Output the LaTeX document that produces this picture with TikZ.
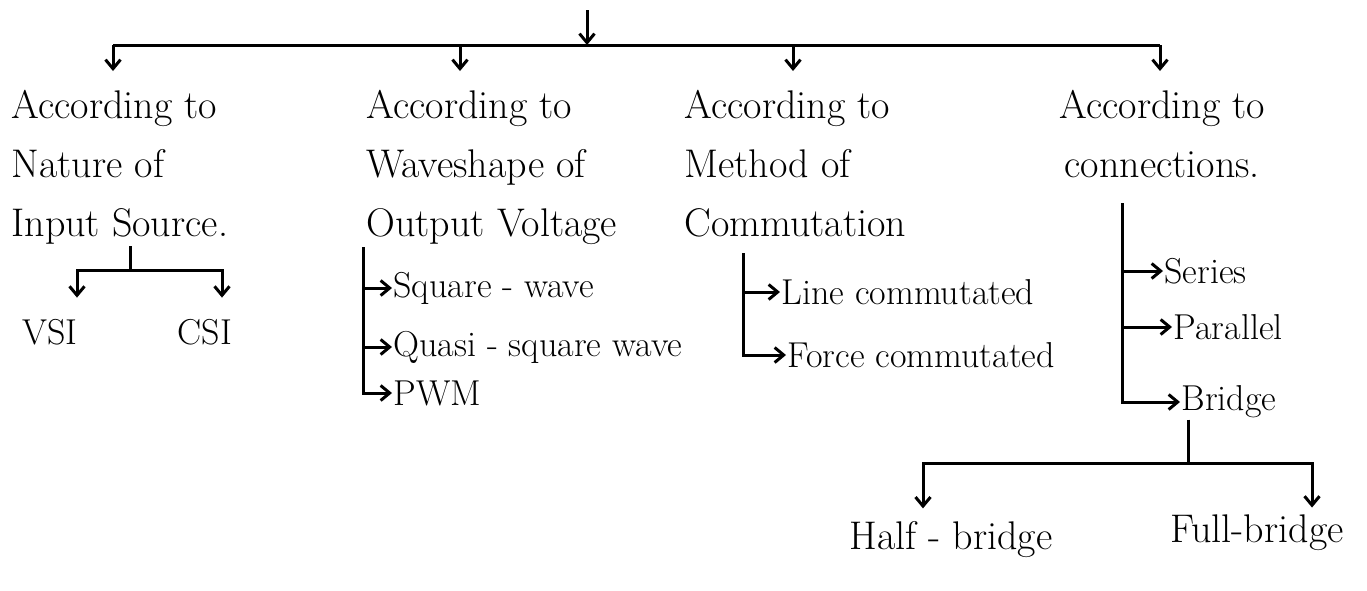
\documentclass[tikz,border=0pt]{standalone}
\usepackage{tikz}
\usetikzlibrary{arrows.meta}

\begin{document}
\begin{tikzpicture}[x=0.5pt, y=-0.5pt, line width=1.5pt,
	arr/.style={-{Straight Barb[length=4.5pt,width=7.5pt]}},
	droparr/.style={arr, shorten >=#1}, droparr/.default=9pt,
	headtxt/.style={font=\fontsize{20}{29.5}\selectfont, inner sep=0pt},
	itemtxt/.style={font=\fontsize{18}{22}\selectfont, inner sep=0pt}]
	\useasboundingbox (0,0) rectangle (1367,590);
	\coordinate (src) at (587,10);
	\coordinate (hub) at (587,45);
	\coordinate (b1) at (113,45);
	\coordinate (b2) at (460,45);
	\coordinate (b3) at (793,45);
	\coordinate (b4) at (1160,45);
	\draw[arr] (src) -- (hub);
	\draw (b1) -- (b4);
	\node[headtxt, anchor=north west, align=left] (nature) at (10,89) {According to\\Nature of\\Input Source.};
	\node[headtxt, anchor=north west, align=left] (wave) at (365,89) {According to\\Waveshape of\\Output Voltage};
	\node[headtxt, anchor=north west, align=left] (method) at (683,89) {According to\\Method of\\Commutation};
	\node[headtxt, anchor=north west, align=center] (connect) at (1058,89) {According to\\connections.};
	\draw[droparr] (b1) -- (b1 |- nature.north);
	\draw[droparr] (b2) -- (b2 |- wave.north);
	\draw[droparr] (b3) -- (b3 |- method.north);
	\draw[droparr] (b4) -- (b4 |- connect.north);
	\node[itemtxt] (vsi) at (50,332) {VSI};
	\node[itemtxt] (csi) at (205,332) {CSI};
	\coordinate (f1) at (130,270);
	\draw (nature.south -| f1) -- (f1);
	\draw[droparr=10pt] (f1) -| ([xshift=13.5pt]vsi.north);
	\draw[droparr=10pt] (f1) -| ([xshift=8.5pt]csi.north);
	\coordinate (c2) at (363,247);
	\node[itemtxt, anchor=west] (square) at (392,288) {Square - wave};
	\node[itemtxt, anchor=west] (quasi) at (392,347) {Quasi - square wave};
	\node[itemtxt, anchor=west] (pwm) at (392,393) {PWM};
	\draw[arr] (c2) |- (pwm.west);
	\draw[arr] (c2 |- square.west) -- (square.west);
	\draw[arr] (c2 |- quasi.west) -- (quasi.west);
	\coordinate (c3) at (743,253);
	\node[itemtxt, anchor=west] (linec) at (780,292) {Line commutated};
	\node[itemtxt, anchor=west] (forcec) at (786,355) {Force commutated};
	\draw[arr] (c3) |- (forcec.west);
	\draw[arr] (c3 |- linec.west) -- (linec.west);
	\coordinate (c4) at (1122,203);
	\node[itemtxt, anchor=west] (series) at (1163,271) {Series};
	\node[itemtxt, anchor=west] (parallel) at (1172,327) {Parallel};
	\node[itemtxt, anchor=west] (bridge) at (1180,402) {Bridge};
	\draw[arr] (c4) |- (bridge.west);
	\draw[arr] (c4 |- series.west) -- (series.west);
	\draw[arr] (c4 |- parallel.west) -- (parallel.west);
	\node[headtxt] (half) at (951,540) {Half - bridge};
	\node[headtxt] (full) at (1257,533) {Full-bridge};
	\coordinate (f4) at (1188,463);
	\draw (bridge.south -| f4) -- (f4);
	\draw[droparr=6pt] (f4) -| ([xshift=-14pt]half.north);
	\draw[droparr=3pt] (f4) -| ([xshift=27.5pt]full.north);
\end{tikzpicture}
\end{document}
